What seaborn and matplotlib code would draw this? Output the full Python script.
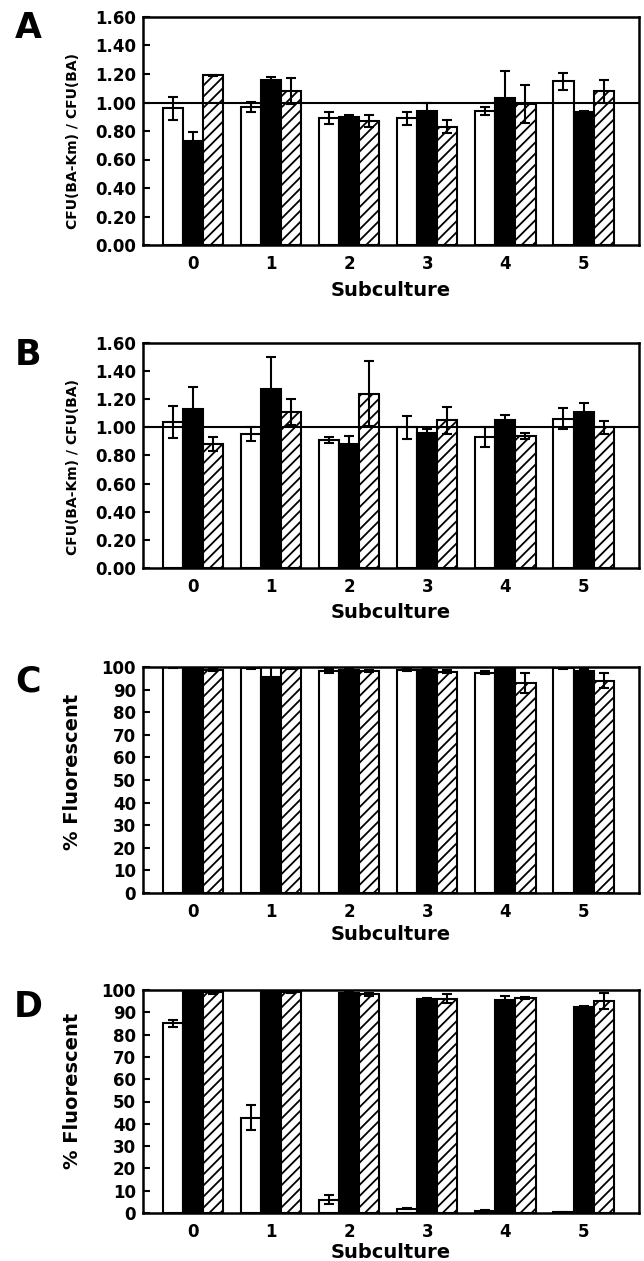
import numpy as np
import pandas as pd
import matplotlib
matplotlib.use("Agg")
import matplotlib.pyplot as plt
import seaborn as sns

# Datos (media y barra de error)
subcultivos = [0, 1, 2, 3, 4, 5]
series = ["blanco", "negro", "rayado"]

a_blanco = [0.96, 0.97, 0.89, 0.89, 0.94, 1.15]
a_negro = [0.73, 1.16, 0.90, 0.94, 1.03, 0.93]
a_rayado = [1.19, 1.08, 0.87, 0.83, 0.99, 1.08]
a_err_blanco = [0.08, 0.035, 0.04, 0.045, 0.025, 0.06]
a_err_negro = [0.06, 0.02, 0.015, 0.06, 0.19, 0.01]
a_err_rayado = [0.005, 0.09, 0.045, 0.045, 0.135, 0.08]

b_blanco = [1.04, 0.95, 0.91, 1.00, 0.93, 1.06]
b_negro = [1.13, 1.27, 0.88, 0.96, 1.05, 1.11]
b_rayado = [0.88, 1.11, 1.24, 1.05, 0.94, 1.00]
b_err_blanco = [0.115, 0.05, 0.02, 0.08, 0.07, 0.075]
b_err_negro = [0.155, 0.23, 0.06, 0.025, 0.035, 0.065]
b_err_rayado = [0.05, 0.095, 0.23, 0.095, 0.022, 0.045]

c_blanco = [99.8, 99.5, 98.3, 98.7, 97.5, 99.5]
c_negro = [99.9, 95.5, 98.5, 98.5, 99.8, 98.3]
c_rayado = [98.5, 99.4, 98.2, 98.0, 93.0, 94.0]
c_err_blanco = [0.2, 0.4, 1.0, 0.5, 0.8, 0.5]
c_err_negro = [0.2, 4.5, 0.5, 0.5, 0.5, 1.0]
c_err_rayado = [0.4, 0.5, 0.5, 0.5, 4.3, 3.5]

d_blanco = [85.0, 42.8, 6.0, 2.0, 1.0, 0.3]
d_negro = [99.3, 99.7, 98.6, 95.8, 95.5, 92.5]
d_rayado = [99.0, 99.0, 98.0, 96.0, 96.5, 95.0]
d_err_blanco = [1.5, 5.5, 2.0, 0.3, 0.2, 0.1]
d_err_negro = [0.6, 0.3, 0.4, 0.4, 2.0, 0.5]
d_err_rayado = [0.8, 0.4, 0.8, 2.0, 0.4, 3.5]


def tabla(blanco, negro, rayado, eb, en, er):
    filas = []
    for vals, errs, nombre in [(blanco, eb, "blanco"), (negro, en, "negro"), (rayado, er, "rayado")]:
        for s, v, e in zip(subcultivos, vals, errs):
            filas.append({"subcultivo": s, "serie": nombre, "valor": v, "err": e})
    return pd.DataFrame(filas)


paneles = [
    ("A", tabla(a_blanco, a_negro, a_rayado, a_err_blanco, a_err_negro, a_err_rayado),
     "CFU(BA-Km) / CFU(BA)", (0, 1.6), np.arange(0, 1.61, 0.2), "{:.2f}"),
    ("B", tabla(b_blanco, b_negro, b_rayado, b_err_blanco, b_err_negro, b_err_rayado),
     "CFU(BA-Km) / CFU(BA)", (0, 1.6), np.arange(0, 1.61, 0.2), "{:.2f}"),
    ("C", tabla(c_blanco, c_negro, c_rayado, c_err_blanco, c_err_negro, c_err_rayado),
     "% Fluorescent", (0, 100), np.arange(0, 101, 10), "{:.0f}"),
    ("D", tabla(d_blanco, d_negro, d_rayado, d_err_blanco, d_err_negro, d_err_rayado),
     "% Fluorescent", (0, 100), np.arange(0, 101, 10), "{:.0f}"),
]

# Posiciones en pixeles: (arriba, abajo, centro letra, etiqueta y, centro xlabel, tamaño ylabel)
W, H = 644, 1261
marcos = [
    (17, 245, 28, 0.456, 290, 10),
    (343, 568, 355, 0.449, 613, 10),
    (667, 893, 681, 0.535, 935, 14),
    (990, 1213, 1007, 0.547, 1253, 14),
]
izq, der = 143, 639

sns.set_style("ticks")
plt.rcParams["font.family"] = ["DejaVu Sans"]
plt.rcParams["font.weight"] = "bold"
plt.rcParams["text.color"] = "black"
plt.rcParams["axes.labelcolor"] = "black"
plt.rcParams["xtick.color"] = "black"
plt.rcParams["ytick.color"] = "black"
plt.rcParams["hatch.linewidth"] = 1.3
plt.rcParams["hatch.color"] = "black"

fig = plt.figure(figsize=(W / 100, H / 100), dpi=100)

for (letra, df, ylab, ylim, yticks, fmt), (top, bot, ly, ylab_pos, xl_y, ylab_size) in zip(paneles, marcos):
    ax = fig.add_axes([izq / W, 1 - bot / H, (der - izq) / W, (bot - top) / H])
    sns.barplot(data=df, x="subcultivo", y="valor", hue="serie", hue_order=series,
                palette=["white", "black", "white"], edgecolor="black", linewidth=1.5,
                width=0.77, gap=0, errorbar=None, legend=False, ax=ax, saturation=1)
    for bar in ax.containers[2]:
        bar.set_hatch("///")
    for cont, nombre in zip(ax.containers, series):
        sub = df[df["serie"] == nombre]
        xs = [b.get_x() + b.get_width() / 2 for b in cont]
        ax.errorbar(xs, sub["valor"].values, yerr=sub["err"].values, fmt="none",
                    ecolor="black", elinewidth=1.5, capsize=3.5, capthick=1.5, zorder=5)
    if letra in ("A", "B"):
        ax.axhline(1.0, color="black", lw=1.5, zorder=6)

    ax.set_ylim(*ylim)
    ax.set_xlim(-0.64, 5.71)
    ax.set_yticks(yticks)
    ax.set_yticklabels([fmt.format(t) for t in yticks])
    ax.tick_params(axis="y", direction="in", length=5, width=1.5, pad=5, labelsize=12,
                   colors="black")
    ax.tick_params(axis="x", length=0, pad=7, labelsize=12, colors="black")
    for lab in ax.get_xticklabels() + ax.get_yticklabels():
        lab.set_fontweight("bold")
    for sp in ax.spines.values():
        sp.set_visible(True)
        sp.set_linewidth(1.8)
        sp.set_color("black")

    ax.set_ylabel(ylab, fontsize=ylab_size, fontweight="bold", ha="center", va="center",
                  color="black")
    ax.yaxis.set_label_coords((73 - izq) / (der - izq), ylab_pos)
    ax.set_xlabel("Subculture", fontsize=14, fontweight="bold", va="center", color="black")
    ax.xaxis.set_label_coords(0.5, -(xl_y - bot) / (bot - top))

    fig.text(28 / W, 1 - ly / H, letra, fontsize=25, fontweight="bold", ha="center",
             va="center", color="black")

fig.savefig("out.png", dpi=100, facecolor="white")
